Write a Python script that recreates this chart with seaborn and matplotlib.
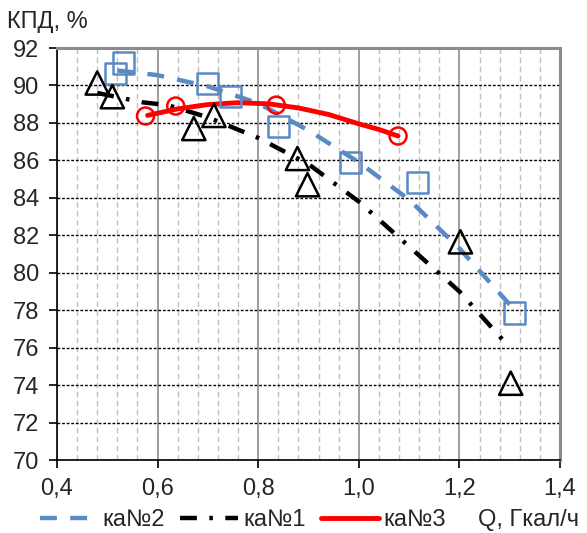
import matplotlib
matplotlib.use("Agg")
import matplotlib.pyplot as plt
import seaborn as sns
import pandas as pd
from matplotlib.ticker import MultipleLocator, FuncFormatter

sns.set_theme(style="white")
plt.rcParams['font.family'] = ['Liberation Sans', 'DejaVu Sans']

# measured points
ka2_x = [0.532, 0.516, 0.700, 0.744, 0.840, 0.984, 1.116, 1.310]
ka2_y = [91.2, 90.66, 90.08, 89.4, 87.8, 85.9, 84.8, 77.85]
ka1_x = [0.480, 0.510, 0.672, 0.712, 0.878, 0.898, 1.202, 1.302]
ka1_y = [90.13, 89.4, 87.7, 88.4, 86.1, 84.7, 81.65, 74.1]
ka3_x = [0.576, 0.636, 0.836, 1.078]
ka3_y = [88.37, 88.9, 88.95, 87.3]

# trend lines
tr2_x = [0.52, 0.60, 0.70, 0.80, 0.90, 1.00, 1.10, 1.20, 1.30]
tr2_y = [90.8, 90.55, 89.95, 89.05, 87.6, 85.9, 83.9, 81.3, 78.3]
tr1_x = [0.48, 0.57, 0.62, 0.70, 0.80, 0.90, 1.00, 1.10, 1.20, 1.30]
tr1_y = [89.6, 89.1, 88.95, 88.3, 87.2, 85.8, 83.8, 81.4, 79.0, 76.0]
tr3_x = [0.58, 0.64, 0.70, 0.76, 0.82, 0.88, 0.94, 1.00, 1.04, 1.078]
tr3_y = [88.4, 88.75, 88.98, 89.08, 89.02, 88.8, 88.45, 87.95, 87.65, 87.3]

labels = ["ка№2", "ка№1", "ка№3"]
x_label = "Q, Гкал/ч"
y_label = "КПД, %"

BLUE = "#5A8AC6"
BLACK = "#000000"
RED = "#FF0000"
FS = 17

fig = plt.figure(figsize=(5.87, 5.33), dpi=100)
ax = fig.add_axes([57/587, 1-460/533, (560-57)/587, (460-48)/533])

sns.lineplot(x=tr2_x, y=tr2_y, ax=ax, color=BLUE, lw=3.2, sort=False)
line2 = ax.lines[-1]
line2.set_dashes([3.8, 3.0])
sns.lineplot(x=tr1_x, y=tr1_y, ax=ax, color=BLACK, lw=3.2, sort=False)
line1 = ax.lines[-1]
line1.set_dashes([3.8, 2.8, 0.8, 2.8])
sns.lineplot(x=tr3_x, y=tr3_y, ax=ax, color=RED, lw=3.5, sort=False)
line3 = ax.lines[-1]

sns.scatterplot(x=ka2_x, y=ka2_y, ax=ax, marker="s", s=230, facecolor="none",
                edgecolor=BLUE, linewidth=1.8, zorder=5)
sns.scatterplot(x=ka1_x, y=ka1_y, ax=ax, marker="^", s=280, facecolor="none",
                edgecolor=BLACK, linewidth=1.8, zorder=5)
sns.scatterplot(x=ka3_x, y=ka3_y, ax=ax, marker="o", s=150, facecolor="none",
                edgecolor=RED, linewidth=1.8, zorder=5)

ax.set_xlim(0.4, 1.4)
ax.set_ylim(70, 92)
ax.xaxis.set_major_locator(MultipleLocator(0.2))
ax.xaxis.set_minor_locator(MultipleLocator(0.04))
ax.yaxis.set_major_locator(MultipleLocator(2))
fmt = FuncFormatter(lambda v, p: f"{v:.1f}".replace(".", ","))
ax.xaxis.set_major_formatter(fmt)
ax.yaxis.set_major_formatter(FuncFormatter(lambda v, p: f"{v:.0f}"))

ax.grid(which="major", axis="x", color="#8c8c8c", lw=1.2, ls="-")
ax.grid(which="minor", axis="x", color="#c0c0c0", lw=1.0, ls=(0, (4, 2.5)))
ax.grid(which="major", axis="y", color="#000000", lw=1.0, ls=(0, (2, 1.3)))
ax.set_axisbelow(True)

for s in ["left", "bottom"]:
    ax.spines[s].set_color("black")
    ax.spines[s].set_linewidth(1.2)
for s in ["top", "right"]:
    ax.spines[s].set_color("#8c8c8c")
    ax.spines[s].set_linewidth(2.2)

ax.tick_params(axis="both", which="major", labelsize=FS, length=6, width=1.2,
               color="black", direction="out", pad=7, bottom=True, left=True)
ax.tick_params(axis="x", which="minor", length=0)

ax.set_xlabel("")
ax.set_ylabel("")
fig.text(7/587, 1-22/533, y_label, fontsize=FS, va="center", ha="left")
fig.text(478/587, 1-520/533, x_label, fontsize=FS, va="center", ha="left")

leg = fig.legend([line2, line1, line3], labels, loc="center left",
                 bbox_to_anchor=(40/587, 1-520/533), ncol=3, frameon=False,
                 fontsize=FS, handlelength=2.45, handletextpad=0.2,
                 columnspacing=0.65, borderaxespad=0, borderpad=0)

fig.savefig("out.png", dpi=100)
